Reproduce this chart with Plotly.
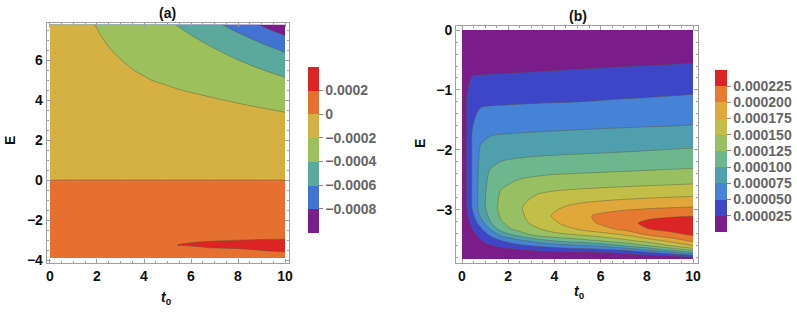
import numpy as np
import plotly.graph_objects as go

# ---------------- Panel (a) data (z in units of 1e-6) ----------------
t_a = [0, 1, 2, 3, 4, 5, 6, 7, 8, 9, 10]
E_a = [-3.9, -3.7, -3.55, -3.4, -3.25, -3.1, -2.9, -2.5, -1.5, -0.3,
       0.3, 1.5, 3, 3.5, 4, 4.5, 5, 5.5, 6, 6.5, 7, 7.4, 7.78]
z_a_micro = [
    [2, 2, 2, 2, 2, 2, 2, 2, 2, 2, 2],
    [2, 15, 25, 35, 45, 60, 80, 110, 140, 170, 190],
    [2, 35, 60, 85, 110, 135, 155, 172, 186, 198, 204],
    [2, 60, 100, 135, 160, 180, 192, 200.5, 204, 208, 212],
    [2, 85, 125, 155, 178, 197, 204, 208, 212, 215, 218],
    [2, 95, 135, 162, 178, 190, 198.5, 203, 206, 208, 210],
    [2, 100, 138, 160, 172, 180, 186, 190, 193, 195, 196],
    [2, 100, 135, 140, 142, 144, 146, 148, 150, 152, 155],
    [2, 65, 67, 68, 69, 70, 71, 72, 73, 74, 75],
    [2, 2.1, 2.2, 2.3, 2.5, 2.8, 3.1, 3.5, 3.9, 4.4, 5],
    [-2, -2.1, -2.2, -2.3, -2.5, -2.8, -3.1, -3.5, -3.9, -4.4, -5],
    [-35, -35.2, -35.8, -36.8, -38.2, -40, -42.2, -44.8, -47.8, -51.2, -55],
    [-85, -85.8, -88.2, -92.2, -97.8, -105, -113.8, -124.2, -136.2, -149.8, -165],
    [-105, -106, -109.2, -114.5, -121.8, -131.3, -142.8, -156.5, -172.2, -190, -210],
    [-125, -126.4, -130.5, -137.3, -146.9, -159.3, -174.3, -192.1, -212.7, -236, -262],
    [-145, -146.8, -152, -160.8, -173, -188.8, -208, -230.8, -257, -286.8, -320],
    [-158, -160.2, -166.9, -178.1, -193.7, -213.8, -238.3, -267.3, -300.7, -338.6, -381],
    [-163, -165.9, -174.5, -188.8, -208.9, -234.8, -266.3, -303.6, -346.7, -395.5, -450],
    [-166, -169.6, -180.6, -198.8, -224.2, -257, -297, -344.4, -399, -460.8, -530],
    [-168, -172.5, -186.2, -208.9, -240.6, -281.5, -331.4, -390.5, -458.6, -535.7, -622],
    [-169, -174.7, -191.8, -220.2, -260, -311.3, -373.8, -447.8, -533.2, -629.9, -738],
    [-170, -176.8, -197.2, -231.2, -278.8, -340, -414.8, -503.2, -605.2, -720.8, -850],
    [-171, -179, -203, -242.9, -298.8, -370.8, -458.6, -562.5, -682.4, -818.2, -970],
]
levels_a = [-0.0008, -0.0006, -0.0004, -0.0002, 0, 0.0002]
cb_text_a = ["\u22120.0008", "\u22120.0006", "\u22120.0004", "\u22120.0002", "0", "0.0002"]

# ---------------- Panel (b) data (z in units of 1e-6) ----------------
t_b = [0, 0.2, 0.45, 0.8, 1.2, 1.7, 2.4, 3.2, 4, 5, 6, 7, 8, 9, 10]
E_b = [-3.82, -3.76, -3.71, -3.66, -3.6, -3.52, -3.42, -3.32, -3.22, -3.1,
       -2.95, -2.7, -2.4, -2.0, -1.6, -1.2, -0.8, -0.4, 0]
z_b_micro = [
    [0, 0, 0, 0, 0, 0, 0, 0, 0, 0, 0, 0, 0, 0, 0],
    [0, 0, 0.5, 2, 3.5, 5, 7, 9, 10.5, 12, 14, 17, 21, 28, 49.5],
    [0, 0.5, 1.5, 4, 7, 10, 14, 18, 20, 22, 24, 30, 46, 68, 99],
    [0, 1, 3, 7, 12, 17, 24, 30, 36, 42, 47, 58, 80, 108, 137],
    [0, 2, 6, 13, 22, 31, 42, 52, 60, 68, 78, 99, 122, 148, 174],
    [0, 4, 10, 22, 36, 48, 64, 82, 99, 111, 124, 140, 157, 180, 203],
    [0, 7, 18, 32, 52, 80, 106, 130, 141, 149, 161, 174, 199.5, 216, 227],
    [0, 11, 25, 45, 74, 111, 133, 146, 161, 176, 191, 206, 224, 232, 236],
    [0, 15, 34, 60, 96, 122, 139, 157, 172, 188, 203, 218, 229, 233, 236],
    [0, 19, 43, 78, 105, 129, 143, 161, 178, 192, 205, 214, 220, 223, 224.5],
    [0, 26, 53, 86, 112, 131, 146, 160, 171, 181, 187, 191.5, 195, 197.8, 199.7],
    [0, 26, 53, 86, 110, 127, 140, 147.5, 151.5, 154.5, 156.8, 158.8, 160.8, 162.6, 164.4],
    [0, 26, 53, 84, 103, 112, 117.5, 121.5, 124.2, 125.8, 127, 128.2, 129.4, 130.7, 132],
    [0, 26, 53, 78, 86, 89, 90.7, 92, 93.2, 94.6, 96, 97.4, 99.1, 100.8, 102],
    [0, 26, 49.5, 63, 66.5, 67.5, 68.4, 69.3, 70.2, 71.3, 72.3, 73.2, 74.1, 74.9, 76],
    [0, 26, 42, 46, 46.8, 47.3, 48, 48.8, 49.4, 50.1, 51.2, 52.4, 53.5, 54.7, 56],
    [0, 21, 26.5, 27.4, 27.8, 28.3, 29.1, 29.9, 30.7, 31.8, 32.8, 33.9, 34.9, 36, 37],
    [0, 8.8, 9.1, 9.4, 9.7, 10.1, 10.7, 11.4, 12.1, 13, 13.9, 14.8, 15.7, 16.6, 17.4],
    [0, 0, 0, 0, 0, 0, 0, 0, 0, 0, 0, 0, 0, 0, 0],
]
levels_b = [0.000025, 0.00005, 0.000075, 0.0001, 0.000125, 0.00015, 0.000175, 0.0002, 0.000225]
cb_text_b = ["0.000025", "0.000050", "0.000075", "0.000100", "0.000125",
             "0.000150", "0.000175", "0.000200", "0.000225"]

# ---------------- styles ----------------
colors_a = ["#7A1C8A", "#4273D2", "#5AA99C", "#9CC05C", "#D5B043", "#E6702F", "#DD2424"]
colors_b = ["#7A1C8A", "#3E46C8", "#4682D6", "#509FAF", "#6DB78E", "#98C062",
            "#C2BE48", "#E0A73A", "#E67A30", "#DD2424"]


def point_scale(cols):
    n = len(cols) - 1
    return [[i / n, c] for i, c in enumerate(cols)]


def step_scale(cols):
    n = len(cols)
    out = []
    for i, c in enumerate(cols):
        out.append([i / n, c])
        out.append([(i + 1) / n, c])
    return out


FONT = "Liberation Sans"
line_col = "rgba(85,85,55,0.6)"
cb_font = dict(family=FONT, size=14, color="#666666", weight="bold")

fig = go.Figure()

step_a = levels_a[1] - levels_a[0]
fig.add_trace(go.Contour(
    x=t_a, y=E_a, z=(np.array(z_a_micro) * 1e-6).tolist(),
    xaxis="x", yaxis="y", autocontour=False,
    contours=dict(start=levels_a[0], end=levels_a[-1], size=step_a, coloring="fill"),
    colorscale=point_scale(colors_a), showscale=False,
    line=dict(color=line_col, width=0.7, smoothing=1.0),
    hoverinfo="skip",
))
fig.add_trace(go.Scatter(
    x=[None], y=[None], mode="markers", xaxis="x", yaxis="y",
    hoverinfo="skip", showlegend=False,
    marker=dict(
        color=[levels_a[0]], colorscale=step_scale(colors_a),
        cmin=levels_a[0] - step_a, cmax=levels_a[-1] + step_a, showscale=True,
        colorbar=dict(
            xref="container", yref="container", x=308 / 797, xanchor="left",
            y=1 - 149.7 / 312, yanchor="middle", len=166, lenmode="pixels",
            thickness=11, thicknessmode="pixels", xpad=0, ypad=0, outlinewidth=0,
            tickvals=levels_a, ticktext=cb_text_a, ticks="outside", ticklen=4,
            tickcolor="#888888", tickfont=cb_font,
        ),
    ),
))

step_b = levels_b[1] - levels_b[0]
fig.add_trace(go.Contour(
    x=t_b, y=E_b, z=(np.array(z_b_micro) * 1e-6).tolist(),
    xaxis="x2", yaxis="y2", autocontour=False,
    contours=dict(start=levels_b[0], end=levels_b[-1], size=step_b, coloring="fill"),
    colorscale=point_scale(colors_b), showscale=False,
    line=dict(color=line_col, width=0.7, smoothing=1.0),
    hoverinfo="skip",
))
fig.add_trace(go.Scatter(
    x=[None], y=[None], mode="markers", xaxis="x2", yaxis="y2",
    hoverinfo="skip", showlegend=False,
    marker=dict(
        color=[levels_b[0]], colorscale=step_scale(colors_b),
        cmin=levels_b[0] - step_b, cmax=levels_b[-1] + step_b, showscale=True,
        colorbar=dict(
            xref="container", yref="container", x=715 / 797, xanchor="left",
            y=1 - 150.9 / 312, yanchor="middle", len=162, lenmode="pixels",
            thickness=11.5, thicknessmode="pixels", xpad=0, ypad=0, outlinewidth=0,
            tickvals=levels_b, ticktext=cb_text_b, ticks="outside", ticklen=4,
            tickcolor="#888888", tickfont=cb_font,
        ),
    ),
))

axis_common = dict(
    showgrid=False, zeroline=False, showline=True, mirror="ticks",
    linecolor="#A0A0A0", linewidth=1, ticks="inside", ticklen=4,
    tickcolor="#A0A0A0",
    tickfont=dict(family=FONT, size=14, color="#111111", weight="bold"),
)

fig.update_layout(
    width=797, height=312,
    margin=dict(l=0, r=0, t=0, b=0, autoexpand=False),
    paper_bgcolor="white", plot_bgcolor="white",
    showlegend=False,
    xaxis=dict(domain=[46.7 / 797, 289 / 797], range=[-0.14, 10.17],
               tickvals=[0, 2, 4, 6, 8, 10], anchor="y",
               minor=dict(ticks="inside", ticklen=2, dtick=0.5, tickcolor="#A0A0A0"),
               **axis_common),
    yaxis=dict(domain=[1 - 263 / 312, 1 - 22.7 / 312], range=[-4.15, 7.87],
               tickvals=[-4, -2, 0, 2, 4, 6], anchor="x",
               minor=dict(ticks="inside", ticklen=2, dtick=0.5, tickcolor="#A0A0A0"),
               **axis_common),
    xaxis2=dict(domain=[456 / 797, 697.7 / 797], range=[-0.26, 10.2],
                tickvals=[0, 2, 4, 6, 8, 10], anchor="y2",
                minor=dict(ticks="inside", ticklen=2, dtick=0.5, tickcolor="#A0A0A0"),
                **axis_common),
    yaxis2=dict(domain=[1 - 263.3 / 312, 1 - 26 / 312], range=[-3.89, 0.067],
                tickvals=[-3, -2, -1, 0], anchor="x2",
                minor=dict(ticks="inside", ticklen=2, dtick=0.2, tickcolor="#A0A0A0"),
                **axis_common),
)

ann_font = dict(family=FONT, size=14, color="#111111", weight="bold")
annotations = [
    dict(text="(a)", x=167 / 797, y=1 - 13 / 312),
    dict(text="(b)", x=578 / 797, y=1 - 16 / 312),
    dict(text="<i>t</i><sub>0</sub>", x=166 / 797, y=1 - 298 / 312),
    dict(text="<i>t</i><sub>0</sub>", x=579 / 797, y=1 - 292 / 312),
    dict(text="E", x=10 / 797, y=1 - 141 / 312, textangle=-90),
    dict(text="E", x=420 / 797, y=1 - 144 / 312, textangle=-90),
]
for a in annotations:
    fig.add_annotation(xref="paper", yref="paper", showarrow=False,
                       xanchor="center", yanchor="middle", font=ann_font, **a)

fig.write_html("out.html",
               config={"displayModeBar": False, "staticPlot": True},
               post_script="document.body.style.margin='0';document.body.style.padding='0';")
